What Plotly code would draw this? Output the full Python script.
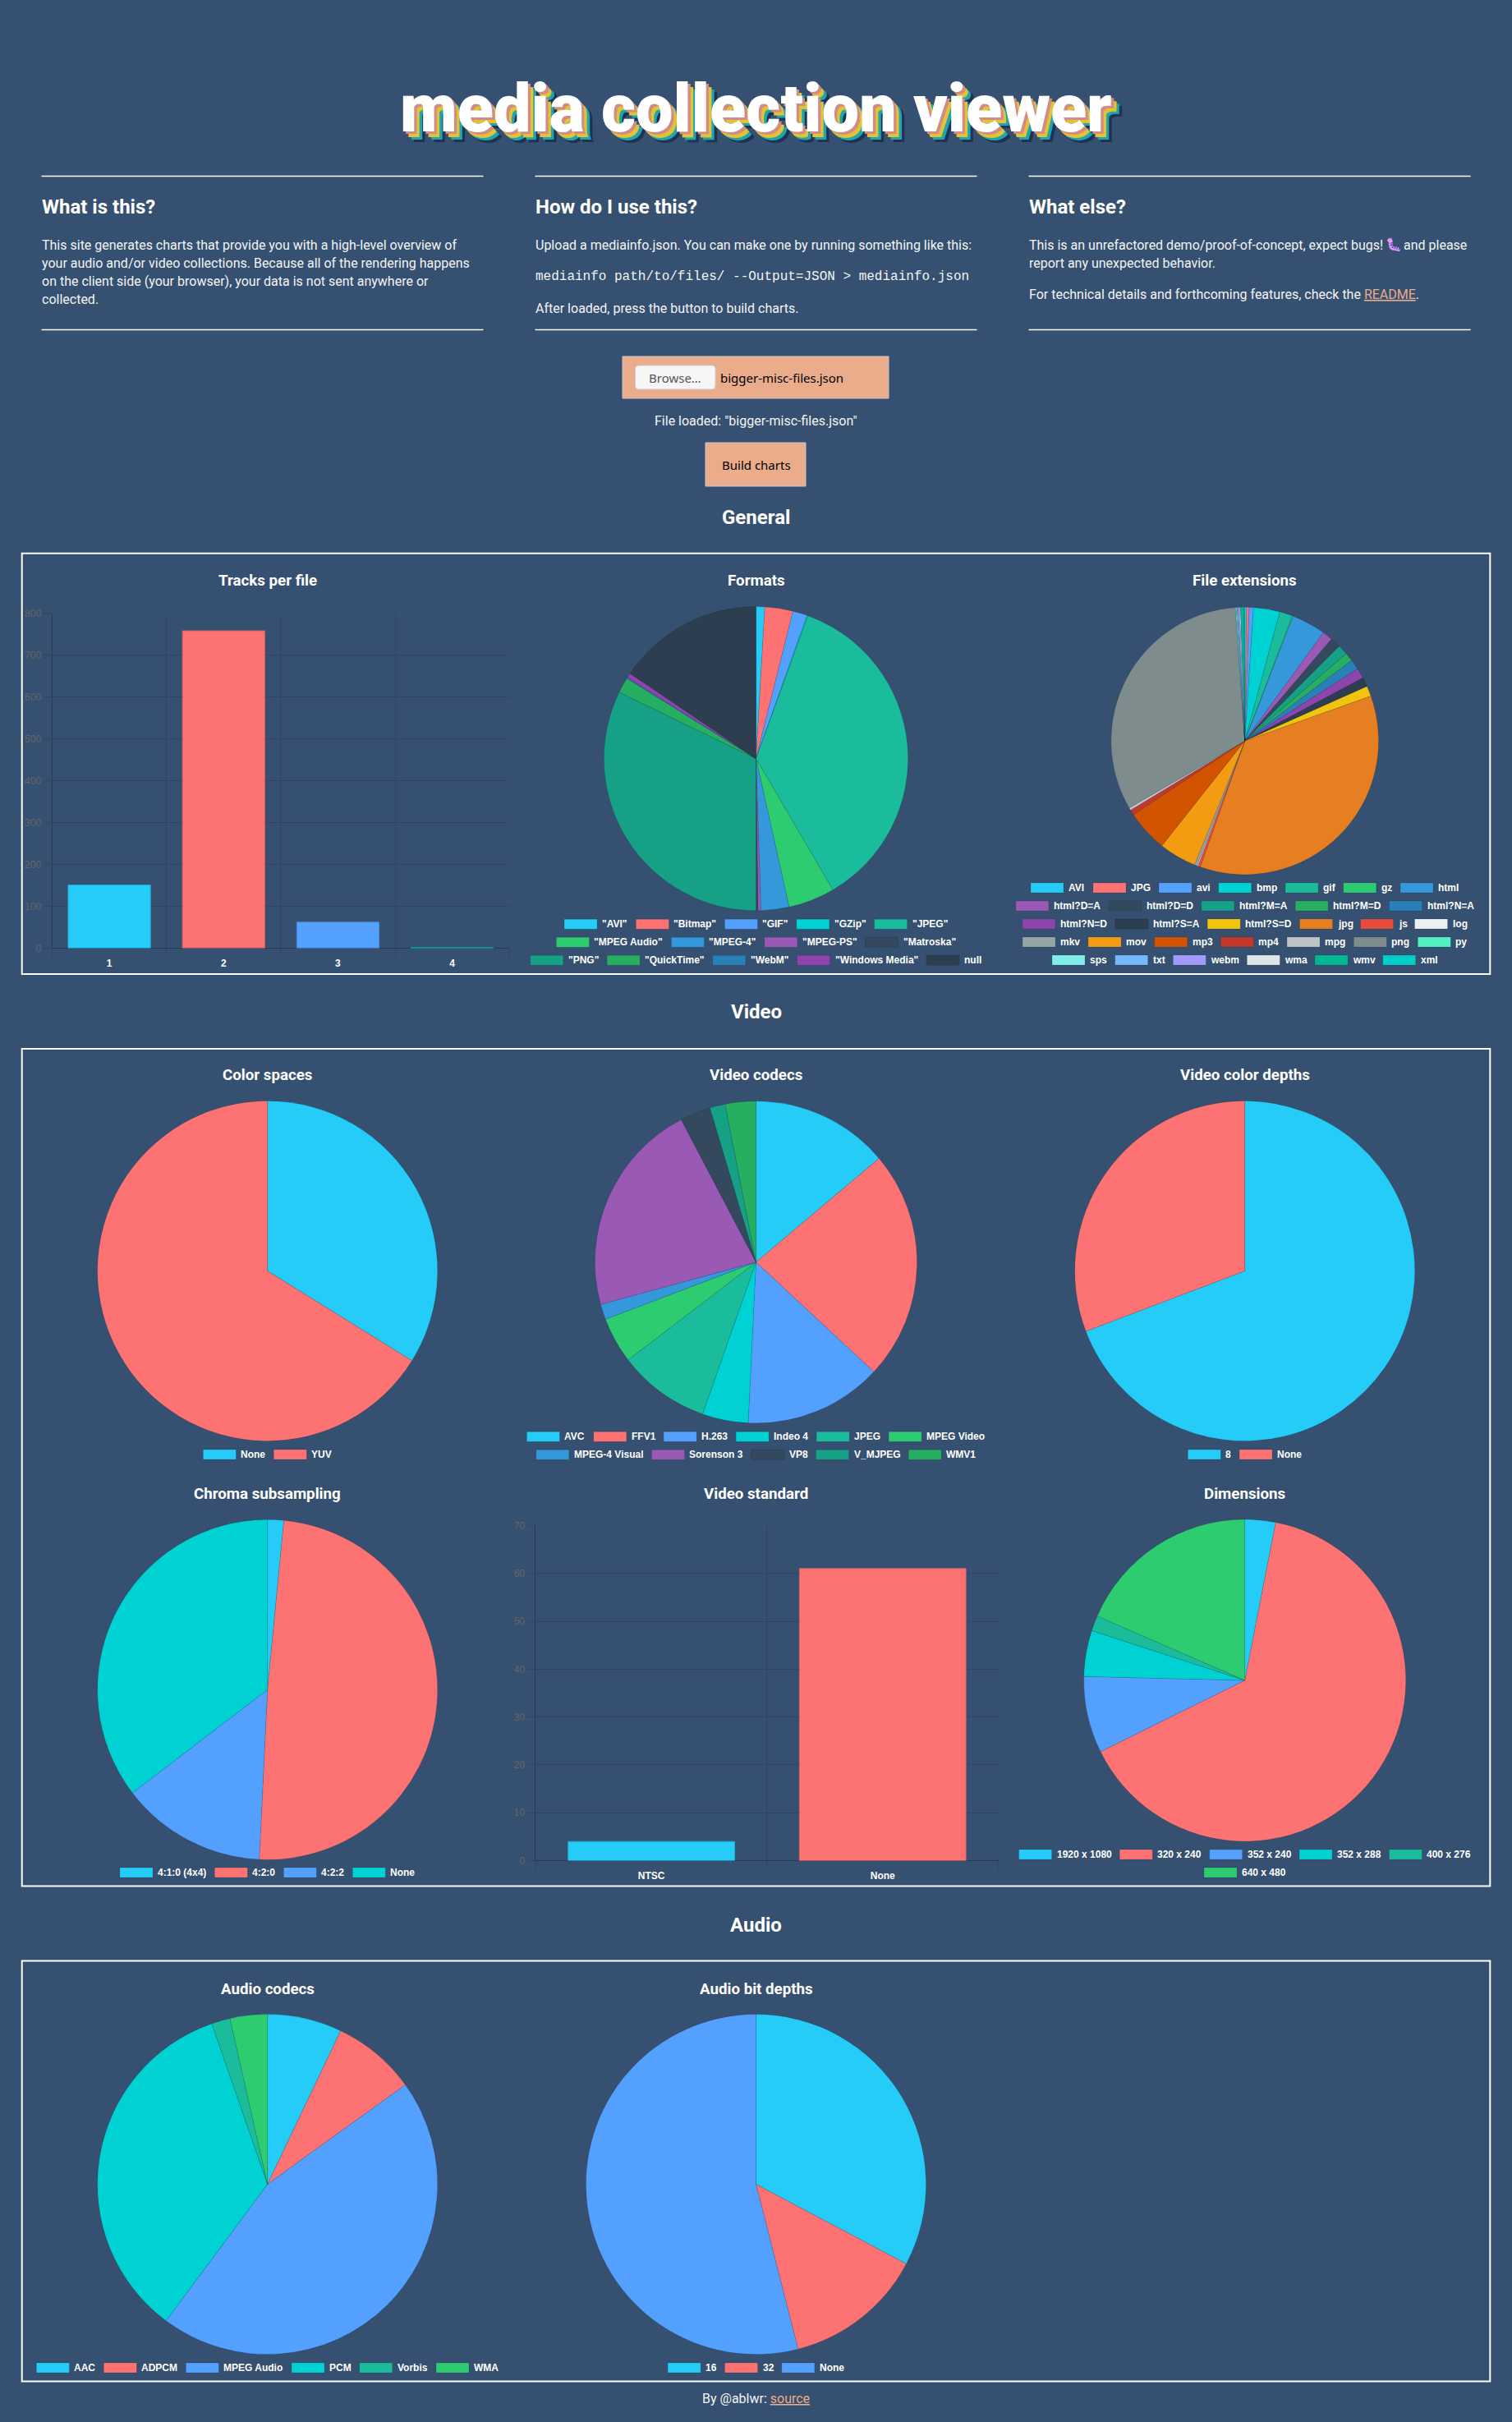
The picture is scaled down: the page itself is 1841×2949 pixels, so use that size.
import plotly.graph_objects as go

W, H = 1841, 2949
BG = "#355070"
PEACH = "#eaac8b"
PALETTE = ["#25CCF7", "#FD7272", "#54a0ff", "#00d2d3", "#1abc9c", "#2ecc71", "#3498db", "#9b59b6",
           "#34495e", "#16a085", "#27ae60", "#2980b9", "#8e44ad", "#2c3e50", "#f1c40f", "#e67e22",
           "#e74c3c", "#ecf0f1", "#95a5a6", "#f39c12", "#d35400", "#c0392b", "#bdc3c7", "#7f8c8d",
           "#55efc4", "#81ecec", "#74b9ff", "#a29bfe", "#dfe6e9", "#00b894", "#00cec9"]

# ---- data ----
tracks_cats = ["1", "2", "3", "4"]
tracks_vals = [151, 758, 62, 1]

formats_labels = ['"AVI"', '"Bitmap"', '"GIF"', '"GZip"', '"JPEG"', '"MPEG Audio"', '"MPEG-4"', '"MPEG-PS"',
                  '"Matroska"', '"PNG"', '"QuickTime"', '"WebM"', '"Windows Media"', 'null']
formats_vals = [9, 29, 15, 1, 350, 48, 29, 3, 2, 313, 16, 1, 5, 151]

ext_labels = ["AVI", "JPG", "avi", "bmp", "gif", "gz", "html", "html?D=A", "html?D=D", "html?M=A", "html?M=D",
              "html?N=A", "html?N=D", "html?S=A", "html?S=D", "jpg", "js", "log", "mkv", "mov", "mp3", "mp4",
              "mpg", "png", "py", "sps", "txt", "webm", "wma", "wmv", "xml"]
ext_vals = [2, 3, 5, 31, 15, 1, 40, 12, 12, 12, 10, 12, 12, 11, 12, 348, 3, 1, 3, 44, 49, 6, 3, 313, 1, 1, 1, 2, 1, 4, 1]

color_space_labels = ["None", "YUV"]
color_space_vals = [22, 43]

video_codec_labels = ["AVC", "FFV1", "H.263", "Indeo 4", "JPEG", "MPEG Video", "MPEG-4 Visual", "Sorenson 3",
                      "VP8", "V_MJPEG", "WMV1"]
video_codec_vals = [9, 15, 9, 3, 6, 3, 1, 14, 2, 1, 2]

depth_labels = ["8", "None"]
depth_vals = [45, 20]

chroma_labels = ["4:1:0 (4x4)", "4:2:0", "4:2:2", "None"]
chroma_vals = [1, 32, 9, 23]

standard_cats = ["NTSC", "None"]
standard_vals = [4, 61]

dimension_labels = ["1920 x 1080", "320 x 240", "352 x 240", "352 x 288", "400 x 276", "640 x 480"]
dimension_vals = [2, 42, 5, 3, 1, 12]

audio_codec_labels = ["AAC", "ADPCM", "MPEG Audio", "PCM", "Vorbis", "WMA"]
audio_codec_vals = [8, 9, 51, 39, 2, 4]

audio_depth_labels = ["16", "32", "None"]
audio_depth_vals = [37, 15, 61]

# ---- helpers ----
def X(x): return x / W
def Y(y): return 1 - y / H

ROBOTO = "Roboto"
ARIAL = "Liberation Sans"
annotations, shapes = [], []

def text(x, y, s, size=16, color="#f4f4f4", family=ROBOTO, weight=400, anchor="left", shadow=None):
    font = dict(family=family, size=size, color=color, weight=weight)
    if shadow:
        font["shadow"] = shadow
    annotations.append(dict(xref="paper", yref="paper", x=X(x), y=Y(y), text=s, showarrow=False,
                            xanchor=anchor, yanchor="middle", borderpad=0, borderwidth=0, font=font))

def rect(x0, y0, x1, y1, line=None, width=0, fill=None, layer="above"):
    shapes.append(dict(type="rect", xref="paper", yref="paper", x0=X(x0), x1=X(x1), y0=Y(y1), y1=Y(y0),
                       line=dict(color=line or "rgba(0,0,0,0)", width=width), fillcolor=fill or "rgba(0,0,0,0)",
                       layer=layer))

def rounded(x0, y0, x1, y1, r, line, width, fill):
    p = (f"M {X(x0 + r)} {Y(y0)} L {X(x1 - r)} {Y(y0)} Q {X(x1)} {Y(y0)} {X(x1)} {Y(y0 + r)} "
         f"L {X(x1)} {Y(y1 - r)} Q {X(x1)} {Y(y1)} {X(x1 - r)} {Y(y1)} "
         f"L {X(x0 + r)} {Y(y1)} Q {X(x0)} {Y(y1)} {X(x0)} {Y(y1 - r)} "
         f"L {X(x0)} {Y(y0 + r)} Q {X(x0)} {Y(y0)} {X(x0 + r)} {Y(y0)} Z")
    shapes.append(dict(type="path", xref="paper", yref="paper", path=p, line=dict(color=line, width=width),
                       fillcolor=fill, layer="above"))

def hline(x0, x1, y, color="#ffffff", width=1.5):
    shapes.append(dict(type="line", xref="paper", yref="paper", x0=X(x0), x1=X(x1), y0=Y(y), y1=Y(y),
                       line=dict(color=color, width=width)))

def darken(hex_color, f=0.85):
    r, g, b = (int(hex_color[i:i + 2], 16) for i in (1, 3, 5))
    return f"rgb({int(r * f)},{int(g * f)},{int(b * f)})"

BOLD = {' ': 278, '"': 474, '(': 333, ')': 333, '-': 333, '.': 278, '/': 278, ':': 333, '=': 584, '?': 611, '_': 556,
        'A': 722, 'B': 722, 'C': 722, 'D': 722, 'E': 667, 'F': 611, 'G': 778, 'H': 722, 'I': 278, 'J': 556, 'K': 722,
        'L': 611, 'M': 833, 'N': 722, 'O': 778, 'P': 667, 'Q': 778, 'R': 722, 'S': 667, 'T': 611, 'U': 722, 'V': 667,
        'W': 944, 'X': 667, 'Y': 667, 'Z': 611, 'a': 556, 'b': 611, 'c': 556, 'd': 611, 'e': 556, 'f': 333, 'g': 611,
        'h': 611, 'i': 278, 'j': 278, 'k': 556, 'l': 278, 'm': 889, 'n': 611, 'o': 611, 'p': 611, 'q': 611, 'r': 389,
        's': 556, 't': 333, 'u': 611, 'v': 556, 'w': 778, 'x': 556, 'y': 556, 'z': 500}

def text_w(s):
    return sum(BOLD.get(c, 556) for c in s) * 12 / 1000

def legend(labels, cx, row_tops, row_sizes):
    i = 0
    for top, n in zip(row_tops, row_sizes):
        items = labels[i:i + n]
        total = sum(40 + 6 + text_w(s) for s in items) + 10 * (n - 1)
        x = cx - total / 2
        for j, s in enumerate(items):
            col = PALETTE[i + j]
            rect(x, top, x + 40, top + 12, line="rgba(0,0,0,0.1)", width=1, fill=col)
            text(x + 46, top + 6, s, size=12, color="#ffffff", family=ARIAL, weight=700)
            x += 46 + text_w(s) + 10
        i += n

fig = go.Figure()

def pie(title, labels, vals, cx, cy, r, title_y, row_tops, row_sizes):
    fig.add_trace(go.Pie(labels=labels, values=vals, sort=False, direction="clockwise", rotation=0,
                         textinfo="none", showlegend=False, hoverinfo="label+value+percent",
                         marker=dict(colors=PALETTE[:len(vals)], line=dict(color="rgba(0,0,0,0.1)", width=1)),
                         domain=dict(x=[X(cx - r), X(cx + r)], y=[Y(cy + r), Y(cy - r)])))
    text(cx, title_y, title, size=18.72, color="#ffffff", weight=700, anchor="center")
    legend(labels, cx, row_tops, row_sizes)

def bar(idx, title, cats, vals, x0, x1, y0, y1, ymax, dtick, cx, title_y):
    suffix = "" if idx == 1 else str(idx)
    cols = PALETTE[:len(vals)]
    fig.add_trace(go.Bar(x=cats, y=vals, xaxis="x" + suffix, yaxis="y" + suffix, showlegend=False,
                         marker=dict(color=cols, line=dict(color=[darken(c) for c in cols], width=1)),
                         width=0.72))
    grid = "rgba(0,0,0,0.1)"
    strong = "rgba(0,0,0,0.25)"
    n = len(cats)
    fig.update_layout({
        "xaxis" + suffix: dict(domain=[X(x0), X(x1)], anchor="y" + suffix, type="category", automargin=False,
                               categoryorder="array", categoryarray=cats, range=[-0.5, n - 0.5],
                               tickmode="array", tickvals=cats, ticktext=cats, showgrid=False, zeroline=False,
                               ticks="outside", ticklen=7, tickcolor="rgba(0,0,0,0)", showline=False,
                               tickfont=dict(family=ARIAL, size=12, color="#ffffff", weight=700),
                               minor=dict(tickmode="array", tickvals=[i - 0.5 for i in range(n + 1)], showgrid=True,
                                          gridcolor=grid, gridwidth=1, ticks="outside", ticklen=10, tickcolor=grid,
                                          tickwidth=1)),
        "yaxis" + suffix: dict(domain=[Y(y1), Y(y0)], anchor="x" + suffix, range=[0, ymax], dtick=dtick,
                               automargin=False,
                               showgrid=True, gridcolor=grid, gridwidth=1, zeroline=True, zerolinecolor=strong,
                               zerolinewidth=1, showline=True, linecolor=strong, linewidth=1, ticks="outside",
                               ticklen=10, tickcolor=grid, tickwidth=1,
                               tickfont=dict(family=ARIAL, size=12, color="#666666")),
    })
    text(cx, title_y, title, size=18.72, color="#ffffff", weight=700, anchor="center")

CX1, CX2, CX3 = 325.7, 920.5, 1515.7

# ---- page header ----
text(920.5, 133, "media collection viewer", size=81, color="#ffffff", weight=900, anchor="center",
     shadow="3.3px 3.3px 0 #d08c85, 6.6px 6.6px 0 #e3c234, 10px 10px 0 #1fa5ae, 13.3px 13.3px 0 #1e3354")

for x0 in (50.5, 651.5, 1252.5):
    hline(x0, x0 + 538, 214.5)
    hline(x0, x0 + 538, 401.5)

text(50.5, 252, "What is this?", size=24, color="#ffffff", weight=700)
for y, s in zip((298.5, 320.5, 342.5, 364.5),
                ("This site generates charts that provide you with a high-level overview of",
                 "your audio and/or video collections. Because all of the rendering happens",
                 "on the client side (your browser), your data is not sent anywhere or",
                 "collected.")):
    text(50.5, y, s)

text(651.5, 252, "How do I use this?", size=24, color="#ffffff", weight=700)
text(651.5, 298.5, "Upload a mediainfo.json. You can make one by running something like this:")
text(651.5, 337, "mediainfo path/to/files/ --Output=JSON &gt; mediainfo.json", family="Liberation Mono", weight=400)
text(651.5, 375, "After loaded, press the button to build charts.")

text(1252.5, 252, "What else?", size=24, color="#ffffff", weight=700)
text(1252.5, 298.5, "This is an unrefactored demo/proof-of-concept, expect bugs!")
text(1696.5, 298, "\U0001F41B", size=16, anchor="center")
text(1709, 298.5, "and please")
text(1252.5, 320.5, "report any unexpected behavior.")
text(1252.5, 358.5, f'For technical details and forthcoming features, check the '
                    f'<span style="color:{PEACH};text-decoration:underline">README</span>.')

# ---- file input / button ----
rect(758, 434, 1082, 485, line="#c9c9c9", width=1, fill=PEACH)
rounded(773.5, 445, 871, 474, 4, "#cfcfcf", 1, "#f6f6f6")
text(822, 460, "Browse…", size=15, color="#555555", family="Noto Sans", weight=400, anchor="center")
text(877, 460, "bigger-misc-files.json", size=15, color="#000000", family="Noto Sans", weight=400)
text(920.5, 512, 'File loaded: "bigger-misc-files.json"', anchor="center")
rect(859, 539, 981, 592, line="#c9c9c9", width=1, fill=PEACH)
text(920.5, 566, "Build charts", size=15, color="#000000", family="Noto Sans", weight=400, anchor="center")

# ---- sections ----
for y, s in ((630, "General"), (1232, "Video"), (2343.5, "Audio")):
    text(920.5, y, s, size=24, color="#ffffff", weight=700, anchor="center")
for top, bottom in ((673.7, 1185.9), (1277, 2296.6), (2387.4, 2899.4)):
    rect(26.7, top, 1814.3, bottom, line="#ffffff", width=2, layer="below")

# General
bar(1, "Tracks per file", tracks_cats, tracks_vals, 63.5, 620.2, 746.7, 1154.4, 800, 100, CX1, 707.5)
pie("Formats", formats_labels, formats_vals, CX2, 923.7, 185.1, 707.5, [1119.3, 1141.3, 1163.3], [5, 4, 5])
pie("File extensions", ext_labels, ext_vals, CX3, 902.1, 162.8, 707.5,
    [1075, 1097, 1119, 1141, 1163], [7, 5, 6, 7, 6])

# Video
pie("Color spaces", color_space_labels, color_space_vals, CX1, 1547.5, 207, 1309.3, [1765], [2])
pie("Video codecs", video_codec_labels, video_codec_vals, CX2, 1536.8, 196, 1309.3, [1743.3, 1765.3], [6, 5])
pie("Video color depths", depth_labels, depth_vals, CX3, 1547.5, 207, 1309.3, [1765], [2])
pie("Chroma subsampling", chroma_labels, chroma_vals, CX1, 2057.3, 207, 1819.3, [2274], [4])
bar(2, "Video standard", standard_cats, standard_vals, 652.4, 1215.5, 1857.4, 2265.5, 70, 10, CX2, 1819.3)
pie("Dimensions", dimension_labels, dimension_vals, CX3, 2046, 196, 1819.3, [2252, 2274], [5, 1])

# Audio
pie("Audio codecs", audio_codec_labels, audio_codec_vals, CX1, 2659.6, 207, 2421.5, [2877], [6])
pie("Audio bit depths", audio_depth_labels, audio_depth_vals, CX2, 2659.6, 207, 2421.5, [2877], [3])

text(920.5, 2920.5, f'By @ablwr: <span style="color:{PEACH};text-decoration:underline">source</span>', anchor="center")

fig.update_layout(width=W, height=H, margin=dict(l=0, r=0, t=0, b=0, pad=0), paper_bgcolor=BG, plot_bgcolor=BG,
                  showlegend=False, annotations=annotations, shapes=shapes, bargap=0.28)

page_fix = ("var h=document.documentElement,b=document.body;"
            "h.style.margin='0';h.style.padding='0';h.style.height='2949px';h.style.overflow='hidden';"
            "b.style.margin='0';b.style.padding='0';b.style.height='2949px';b.style.overflow='hidden';"
            "b.style.background='#355070';"
            "var g=document.getElementById('{plot_id}');"
            "g.style.position='absolute';g.style.left='0';g.style.top='0';"
            "g.querySelectorAll('.annotation-text').forEach(function(t){"
            "if(t.textContent==='\\uD83D\\uDC1B'){t.style.filter='hue-rotate(195deg)';}});")
fig.write_html("out.html", config=dict(displayModeBar=False), post_script=page_fix)
